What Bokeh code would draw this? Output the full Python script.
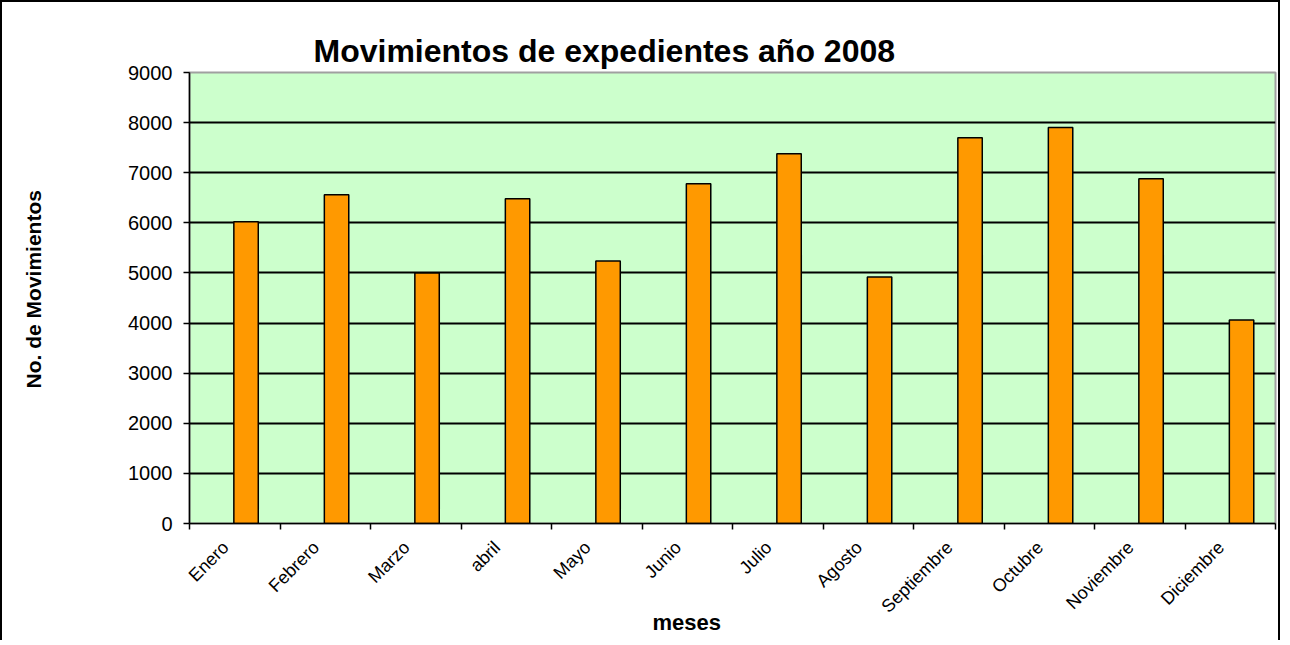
import numpy as np
from math import pi
from bokeh.plotting import figure
from bokeh.models import Range1d, FixedTicker, ColumnDataSource
from bokeh.transform import dodge
from bokeh.embed import file_html
from bokeh.resources import INLINE

# ---- data ----
meses = ["Enero", "Febrero", "Marzo", "abril", "Mayo", "Junio", "Julio",
         "Agosto", "Septiembre", "Octubre", "Noviembre", "Diciembre"]
movimientos = [6020, 6560, 5000, 6480, 5240, 6780, 7380, 4920, 7700, 7900, 6880, 4060]
y_ticks = [0, 1000, 2000, 3000, 4000, 5000, 6000, 7000, 8000, 9000]
titulo = "Movimientos de expedientes año 2008"
y_label = "No. de Movimientos"
x_label = "meses"

FONT = "Liberation Sans"
NBSP = "\u00a0"

pos = np.arange(len(meses)) + 0.5
label_pos = np.arange(len(meses)) + 0.4
src = ColumnDataSource(dict(x=pos, top=movimientos, mes=meses))

p = figure(width=1280, height=640, output_backend="svg", toolbar_location=None,
           x_range=Range1d(0, len(meses)), y_range=Range1d(y_ticks[0], y_ticks[-1]),
           min_border_left=187, min_border_right=7, min_border_top=70, min_border_bottom=119)

p.styles = {"border-top": "2px solid black", "border-left": "2px solid black",
            "border-right": "2px solid black"}

p.background_fill_color = "#CCFFCC"
p.border_fill_color = "white"
p.outline_line_color = "#A0A0A0"
p.outline_line_width = 2

p.vbar(x=dodge("x", 0.125), top="top", bottom=0, width=0.27, source=src,
       fill_color="#FF9900", line_color="black", line_width=1.5)

# title
p.title.text = titulo
p.title.align = "left"
p.title.offset = 124
p.title.standoff = 7
p.title.text_font = FONT
p.title.text_font_size = "32px"
p.title.text_font_style = "bold"
p.title.text_color = "black"

# grids
p.xgrid.visible = False
p.ygrid.ticker = FixedTicker(ticks=y_ticks[1:-1])
p.ygrid.grid_line_color = "black"
p.ygrid.grid_line_width = 2

# y axis
p.yaxis.ticker = FixedTicker(ticks=y_ticks)
p.yaxis.major_tick_out = 6
p.yaxis.major_tick_in = 0
p.yaxis.minor_tick_line_color = None
p.yaxis.axis_line_color = "black"
p.yaxis.axis_line_width = 1.5
p.yaxis.major_tick_line_width = 1.5
p.yaxis.major_label_text_font = FONT
p.yaxis.major_label_text_font_size = "20px"
p.yaxis.major_label_text_color = "black"
p.yaxis.major_label_standoff = 11
# leading non-breaking spaces nudge the centred label up, as in the original
p.yaxis.axis_label = NBSP * 3 + y_label
p.yaxis.axis_label_text_font = FONT
p.yaxis.axis_label_text_font_size = "21px"
p.yaxis.axis_label_text_font_style = "bold"
p.yaxis.axis_label_text_color = "black"
p.yaxis.axis_label_standoff = 80

# x axis
p.xaxis.ticker = FixedTicker(ticks=list(label_pos), minor_ticks=list(range(len(meses) + 1)))
p.xaxis.major_label_overrides = {float(v): m for v, m in zip(label_pos, meses)}
p.xaxis.major_tick_out = 0
p.xaxis.major_tick_in = 0
p.xaxis.minor_tick_out = 6
p.xaxis.minor_tick_in = 0
p.xaxis.minor_tick_line_color = "black"
p.xaxis.minor_tick_line_width = 1.5
p.xaxis.axis_line_color = "black"
p.xaxis.axis_line_width = 1.5
p.xaxis.major_label_orientation = pi / 4
p.xaxis.major_label_standoff = 15
p.xaxis.major_label_text_font = FONT
p.xaxis.major_label_text_font_size = "18px"
p.xaxis.major_label_text_color = "black"
# trailing non-breaking spaces nudge the centred label left, as in the original
p.xaxis.axis_label = x_label + NBSP * 15
p.xaxis.axis_label_text_font = FONT
p.xaxis.axis_label_text_font_size = "22px"
p.xaxis.axis_label_text_font_style = "bold"
p.xaxis.axis_label_text_color = "black"
p.xaxis.axis_label_standoff = -17

open("out.html", "w").write(file_html(p, INLINE))
